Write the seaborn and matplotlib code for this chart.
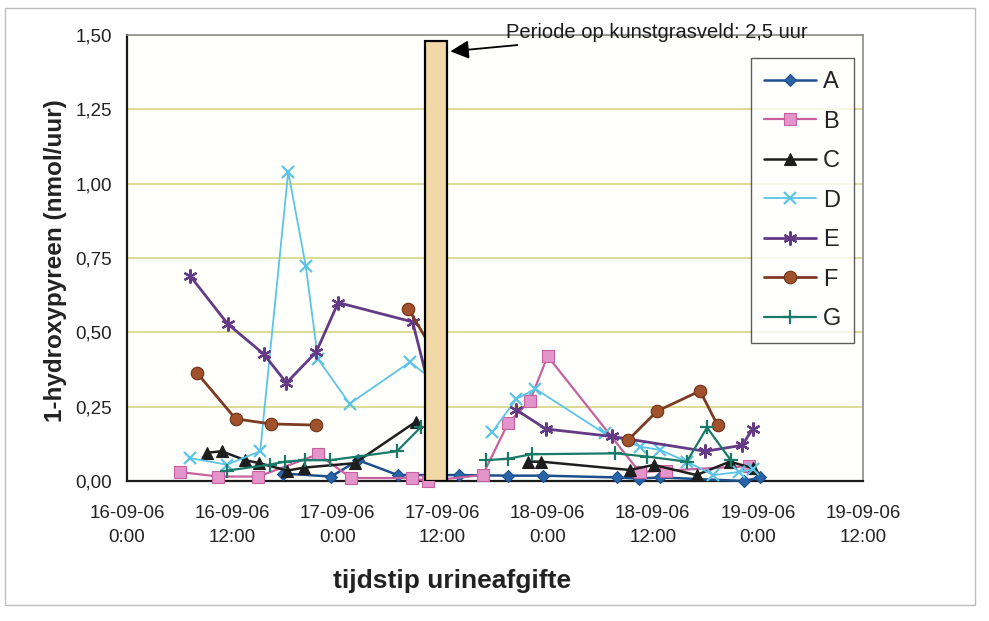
import numpy as np
import pandas as pd
import matplotlib
matplotlib.use("Agg")
import matplotlib.pyplot as plt
from matplotlib.lines import Line2D
from matplotlib.patches import Rectangle
import seaborn as sns

# --- data: hours since 16-09-06 0:00 and 1-hydroxypyreen (nmol/uur); NaN = break in the line
A_t = [17.8, 23.3, 26.4, 30.9, 37.9, 43.5, 47.5, 55.9, 58.4, 60.8, 70.4, 72.3]
A_v = [0.025, 0.015, 0.07, 0.02, 0.02, 0.018, 0.018, 0.012, 0.008, 0.012, 0.0, 0.012]

B_t = [6.1, 10.4, 15.0, 21.8, 25.6, 32.5, 34.3, 40.6, 43.5, 46.0, 48.0, 58.5, 61.5, 71.0]
B_v = [0.03, 0.015, 0.015, 0.09, 0.01, 0.01, 0.0, 0.02, 0.195, 0.27, 0.42, 0.03, 0.035, 0.05]

C_t = [9.1, 10.8, 13.5, 15.1, 18.3, 20.2, 26.0, 33.0, np.nan,
       45.8, 47.3, 57.4, 60.1, 65.0, 68.8, 71.5]
C_v = [0.095, 0.10, 0.07, 0.06, 0.035, 0.045, 0.06, 0.20, np.nan,
       0.065, 0.065, 0.037, 0.054, 0.02, 0.065, 0.043]

D_t = [7.2, 11.4, 15.2, 18.4, 20.4, 21.8, 25.4, 32.3, 35.3, np.nan,
       41.7, 44.4, 46.6, 54.5, 58.6, 60.8, 63.9, 66.9, 69.8, 71.5]
D_v = [0.077, 0.055, 0.10, 1.04, 0.723, 0.41, 0.26, 0.40, 0.33, np.nan,
       0.165, 0.275, 0.31, 0.16, 0.115, 0.105, 0.065, 0.02, 0.03, 0.04]

E_t = [7.2, 11.5, 15.6, 18.2, 21.6, 24.1, 32.6, 35.3, np.nan,
       44.4, 47.8, 55.3, 66.0, 70.2, 71.4]
E_v = [0.69, 0.528, 0.427, 0.33, 0.434, 0.60, 0.535, 0.22, np.nan,
       0.24, 0.175, 0.15, 0.10, 0.12, 0.175]

F_t = [8.0, 12.4, 16.4, 21.6, np.nan, 32.1, 35.3, np.nan, 57.2, 60.5, 65.4, 67.4]
F_v = [0.363, 0.209, 0.192, 0.188, np.nan, 0.58, 0.42, np.nan, 0.138, 0.235, 0.303, 0.188]

G_t = [11.4, 16.3, 18.0, 20.3, 23.2, 30.8, 33.5, np.nan,
       41.0, 43.5, 46.2, 55.7, 59.4, 63.9, 66.2, 68.9]
G_v = [0.035, 0.055, 0.065, 0.07, 0.07, 0.10, 0.18, np.nan,
       0.07, 0.075, 0.09, 0.093, 0.082, 0.065, 0.18, 0.07]

series_names = ["A", "B", "C", "D", "E", "F", "G"]
series_t = [A_t, B_t, C_t, D_t, E_t, F_t, G_t]
series_v = [A_v, B_v, C_v, D_v, E_v, F_v, G_v]

# time on the artificial turf field
field_start = 34.0
field_hours = 2.5
field_height = 1.48
field_label = "Periode op kunstgrasveld: 2,5 uur"

x_ticks = [0, 12, 24, 36, 48, 60, 72, 84]
x_tick_labels = ["16-09-06\n0:00", "16-09-06\n12:00", "17-09-06\n0:00", "17-09-06\n12:00",
                 "18-09-06\n0:00", "18-09-06\n12:00", "19-09-06\n0:00", "19-09-06\n12:00"]
y_ticks = [0.0, 0.25, 0.50, 0.75, 1.00, 1.25, 1.50]
y_tick_labels = ["0,00", "0,25", "0,50", "0,75", "1,00", "1,25", "1,50"]

# --- styling per series
styles = {
    "A": dict(color="#1d4f8e", marker="D", ms=6.5, mfc="#2a64a8", mec="#1d4f8e", lw=1.8),
    "B": dict(color="#c8609f", marker="s", ms=8, mfc="#e394cb", mec="#c8609f", lw=1.6),
    "C": dict(color="#1e1e1e", marker="^", ms=8, mfc="#1e1e1e", mec="#1e1e1e", lw=1.8),
    "D": dict(color="#5cc4e6", marker="x", ms=8, mfc="#5cc4e6", mec="#5cc4e6", lw=1.3),
    "E": dict(color="#643a86", marker=(6, 2, 0), ms=10, mfc="#643a86", mec="#643a86", lw=2.0),
    "F": dict(color="#7d3a22", marker="o", ms=9, mfc="#a0522d", mec="#6e3219", lw=2.0),
    "G": dict(color="#1a7a68", marker="+", ms=10, mfc="#1a7a68", mec="#1a7a68", lw=1.6),
}
line_markers = ("x", "+", (6, 2, 0))

rows = []
for name, ts, vs in zip(series_names, series_t, series_v):
    seg = 0
    for t, v in zip(ts, vs):
        if np.isnan(t):
            seg += 1
            continue
        rows.append({"serie": name, "uur": t, "waarde": v, "deel": f"{name}{seg}"})
df = pd.DataFrame(rows)

sns.set_style("white")
plt.rcParams["font.family"] = ["Liberation Sans", "DejaVu Sans"]

fig = plt.figure(figsize=(9.89, 6.21), dpi=100)
ax = fig.add_axes([127 / 989, 1 - 481 / 621, 736 / 989, 446 / 621])
ax.set_facecolor("#fffffb")

for name in series_names:
    st = styles[name]
    sub = df[df["serie"] == name]
    sns.lineplot(data=sub, x="uur", y="waarde", units="deel", estimator=None, sort=False,
                 ax=ax, color=st["color"], linewidth=st["lw"], marker=st["marker"],
                 markersize=st["ms"], markerfacecolor=st["mfc"], markeredgecolor=st["mec"],
                 markeredgewidth=1.6 if st["marker"] in line_markers else 0.8,
                 zorder=3, clip_on=False, legend=False)

# bar marking the period on the artificial turf
ax.bar([field_start], [field_height], width=field_hours, align="edge",
       color="#f1d8a6", edgecolor="black", linewidth=1.6, zorder=6)

ax.annotate(field_label, xy=(field_start + field_hours + 0.4, field_height - 0.035),
            xytext=(43.2, 1.51), textcoords="data", fontsize=14.5, va="center", ha="left",
            annotation_clip=False, color="#1a1a1a",
            arrowprops=dict(arrowstyle="-|>", color="black", lw=1.3, mutation_scale=28,
                            shrinkA=2, shrinkB=0))

ax.set_xlim(0, 84)
ax.set_ylim(0, 1.5)
ax.set_xticks(x_ticks)
ax.set_xticklabels(x_tick_labels, fontsize=13.5, color="#222222", linespacing=1.6)
ax.set_yticks(y_ticks)
ax.set_yticklabels(y_tick_labels, fontsize=13.5, color="#222222")
ax.tick_params(axis="x", direction="out", length=5, width=1, pad=12, color="#333333")
ax.tick_params(axis="y", direction="out", length=5, width=1, pad=6, color="#333333")

ax.yaxis.grid(True, color="#d9d98c", linewidth=1.3)
ax.set_axisbelow(True)

for side in ("left", "bottom"):
    ax.spines[side].set_color("#1a1a1a")
    ax.spines[side].set_linewidth(1.6)
for side in ("top", "right"):
    ax.spines[side].set_color("#8c8c8c")
    ax.spines[side].set_linewidth(1.2)

ax.set_xlabel("tijdstip urineafgifte", fontsize=19, fontweight="bold", color="#222222")
ax.xaxis.set_label_coords(0.4416, -0.198)
ax.set_ylabel("1-hydroxypyreen (nmol/uur)", fontsize=17.5, fontweight="bold", color="#222222")
ax.yaxis.set_label_coords(-0.081, 0.495)

handles = []
for name in series_names:
    st = styles[name]
    handles.append(Line2D([0], [0], color=st["color"], lw=st["lw"], marker=st["marker"],
                          markersize=st["ms"], markerfacecolor=st["mfc"],
                          markeredgecolor=st["mec"],
                          markeredgewidth=1.6 if st["marker"] in line_markers else 0.8))
leg = ax.legend(handles, series_names, loc="upper right", bbox_to_anchor=(0.988, 0.948),
                fontsize=17, frameon=True, fancybox=False, handlelength=2.2,
                labelspacing=0.74, borderpad=0.55, handletextpad=0.3, borderaxespad=0)
leg.get_frame().set_edgecolor("#333333")
leg.get_frame().set_linewidth(1.0)
leg.get_frame().set_facecolor("white")
leg.set_zorder(7)
for txt in leg.get_texts():
    txt.set_color("#222222")

# outer frame of the chart area
fig.patches.append(Rectangle((5 / 989, 1 - 605 / 621), 970 / 989, 597 / 621,
                             transform=fig.transFigure, fill=False,
                             edgecolor="#bdbdbd", linewidth=1.0))

fig.savefig("out.png", dpi=100, facecolor="white")
